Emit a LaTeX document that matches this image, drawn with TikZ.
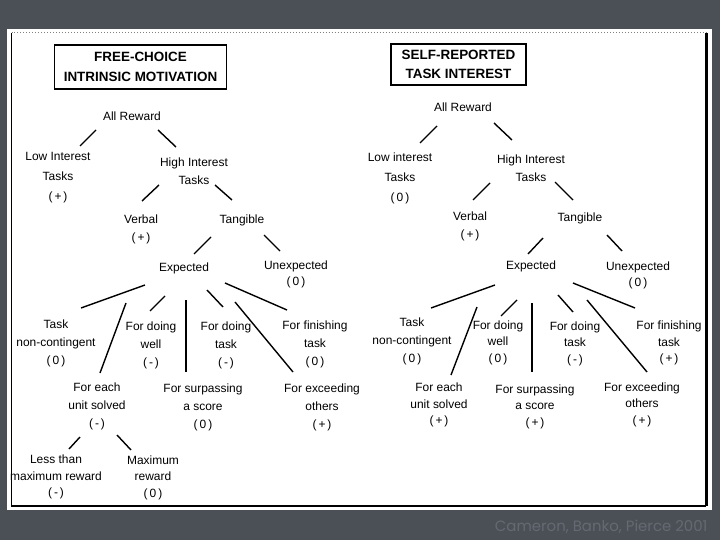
\documentclass[tikz,border=0pt]{standalone}
\usepackage{fontspec}
\setmainfont{Liberation Sans}
\newfontfamily\capfont{Poppins}
\usepackage{tikz}
\usetikzlibrary{positioning}

\definecolor{slide}{HTML}{4B5057}
\definecolor{capgrey}{HTML}{656A72}

\begin{document}
\begin{tikzpicture}[x=1bp,y=-1bp,
    lbl/.style={align=center,inner sep=0pt,font=\fontsize{12}{18}\selectfont},
    tight/.style={font=\fontsize{12}{16.5}\selectfont},
    loose/.style={font=\fontsize{12}{20}\selectfont},
    titlebox/.style={draw,line width=1.6bp,align=center,inner sep=0pt,
      font=\bfseries\fontsize{13.5}{19.5}\selectfont},
    br/.style={line width=1.4bp}]
    \useasboundingbox (0,0) rectangle (720,540);
    \fill[slide] (0,0) rectangle (720,540);
    \fill[white] (7,29) rectangle (712,510);
    \draw[line width=1.2bp] (11.5,33) -- (11.5,506) -- (706,506);
    \draw[line width=3bp] (706,506) -- (706,33);
    \draw[gray,line width=1bp,dotted] (11.5,33) -- (706,33);
    \node[anchor=base east,text=capgrey,font=\capfont\fontsize{15}{18}\selectfont]
      (credit) at (711,531) {Cameron, Banko, Pierce 2001};

    % free-choice tree
    \node[titlebox,minimum width=173,minimum height=44] (l_title) at (140.5,67) {FREE-CHOICE\\INTRINSIC MOTIVATION};
    \node[lbl] (l_all) at (132,116) {All Reward};
    \node[lbl,loose] (l_low) at (58,178) {Low Interest\\Tasks\\(\,+\,)};
    \node[lbl] (l_high) at (194,171.5) {High Interest\\Tasks};
    \node[lbl] (l_verb) at (141,229.5) {Verbal\\(\,+\,)};
    \node[lbl] (l_tang) at (242,220) {Tangible};
    \node[lbl] (l_exp) at (184,268) {Expected};
    \node[lbl,tight] (l_unexp) at (296,274.5) {Unexpected\\(\,0\,)};
    \node[lbl] (l_nonc) at (56,343) {Task\\non-contingent\\(\,0\,)};
    \node[lbl] (l_well) at (151,345) {For doing\\well\\(\,-\,)};
    \node[lbl] (l_task) at (226,345.5) {For doing\\task\\(\,-\,)};
    \node[lbl] (l_fin) at (315,344.5) {For finishing\\task\\(\,0\,)};
    \node[lbl] (l_each) at (97,406.5) {For each\\unit solved\\(\,-\,)};
    \node[lbl] (l_surp) at (203,407) {For surpassing\\a score\\(\,0\,)};
    \node[lbl] (l_exc) at (322,407) {For exceeding\\others\\(\,+\,)};
    \node[lbl,tight] (l_less) at (56,477) {Less than\\maximum reward\\(\,-\,)};
    \node[lbl,tight] (l_max) at (153,477.5) {Maximum\\reward\\(\,0\,)};

    \path[br]
    ([shift={(-36,14)}]l_all.center) edge ([shift={(22,-32)}]l_low.center)
    ([shift={(26,14)}]l_all.center) edge ([shift={(-18,-24.5)}]l_high.center)
    ([shift={(-35,13.5)}]l_high.center) edge ([shift={(1,-28.5)}]l_verb.center)
    ([shift={(21,13.5)}]l_high.center) edge ([shift={(-10,-20)}]l_tang.center)
    ([shift={(-31,17)}]l_tang.center) edge ([shift={(10,-14)}]l_exp.center)
    ([shift={(22,15)}]l_tang.center) edge ([shift={(-16,-23.5)}]l_unexp.center)
    ([shift={(-39,17)}]l_exp.center) edge ([shift={(25,-35)}]l_nonc.center)
    ([shift={(-19,28)}]l_exp.center) edge ([shift={(-1,-34)}]l_well.center)
    ([shift={(23,22)}]l_exp.center) edge ([shift={(-3,-38.5)}]l_task.center)
    ([shift={(41,15)}]l_exp.center) edge ([shift={(-28,-34.5)}]l_fin.center)
    ([shift={(-58,35)}]l_exp.center) edge ([shift={(3,-33.5)}]l_each.center)
    ([shift={(2,32)}]l_exp.center) edge ([shift={(-17,-35)}]l_surp.center)
    ([shift={(51,34)}]l_exp.center) edge ([shift={(-29,-35)}]l_exc.center)
    ([shift={(-17,30.5)}]l_each.center) edge ([shift={(13,-28)}]l_less.center)
    ([shift={(20,28.5)}]l_each.center) edge ([shift={(-22,-27.5)}]l_max.center);

    % self-reported tree
    \node[titlebox,minimum width=135,minimum height=41] (r_title) at (458.5,64.5) {SELF-REPORTED\\TASK INTEREST};
    \node[lbl] (r_all) at (463,107) {All Reward};
    \node[lbl,loose] (r_low) at (400,178) {Low interest\\Tasks\\(\,0\,)};
    \node[lbl] (r_high) at (531,168) {High Interest\\Tasks};
    \node[lbl] (r_verb) at (470,226.5) {Verbal\\(\,+\,)};
    \node[lbl] (r_tang) at (580,218) {Tangible};
    \node[lbl] (r_exp) at (531,266) {Expected};
    \node[lbl,tight] (r_unexp) at (638,275.5) {Unexpected\\(\,0\,)};
    \node[lbl] (r_nonc) at (412,341.5) {Task\\non-contingent\\(\,0\,)};
    \node[lbl,tight] (r_well) at (498,342.5) {For doing\\well\\(\,0\,)};
    \node[lbl,tight] (r_task) at (575,343.5) {For doing\\task\\(\,-\,)};
    \node[lbl,tight] (r_fin) at (669,343) {For finishing\\task\\(\,+\,)};
    \node[lbl,tight] (r_each) at (439,405) {For each\\unit solved\\(\,+\,)};
    \node[lbl,tight] (r_surp) at (535,406.5) {For surpassing\\a score\\(\,+\,)};
    \node[lbl,tight] (r_exc) at (642,404.5) {For exceeding\\others\\(\,+\,)};

    \path[br]
    ([shift={(-26,19)}]r_all.center) edge ([shift={(20,-35)}]r_low.center)
    ([shift={(31,16)}]r_all.center) edge ([shift={(-19,-28)}]r_high.center)
    ([shift={(-41,15)}]r_high.center) edge ([shift={(3,-26.5)}]r_verb.center)
    ([shift={(24,14)}]r_high.center) edge ([shift={(-7,-18)}]r_tang.center)
    ([shift={(-37,20)}]r_tang.center) edge ([shift={(-3,-12)}]r_exp.center)
    ([shift={(27,17)}]r_tang.center) edge ([shift={(-16,-24.5)}]r_unexp.center)
    ([shift={(-36,19)}]r_exp.center) edge ([shift={(19,-33.5)}]r_nonc.center)
    ([shift={(-14,34)}]r_exp.center) edge ([shift={(3,-26.5)}]r_well.center)
    ([shift={(27,29)}]r_exp.center) edge ([shift={(-2,-31.5)}]r_task.center)
    ([shift={(42,17)}]r_exp.center) edge ([shift={(-34,-35)}]r_fin.center)
    ([shift={(-54,41)}]r_exp.center) edge ([shift={(12,-30)}]r_each.center)
    ([shift={(1,37)}]r_exp.center) edge ([shift={(-3,-34.5)}]r_surp.center)
    ([shift={(56,34)}]r_exp.center) edge ([shift={(5,-32.5)}]r_exc.center);
\end{tikzpicture}
\end{document}
